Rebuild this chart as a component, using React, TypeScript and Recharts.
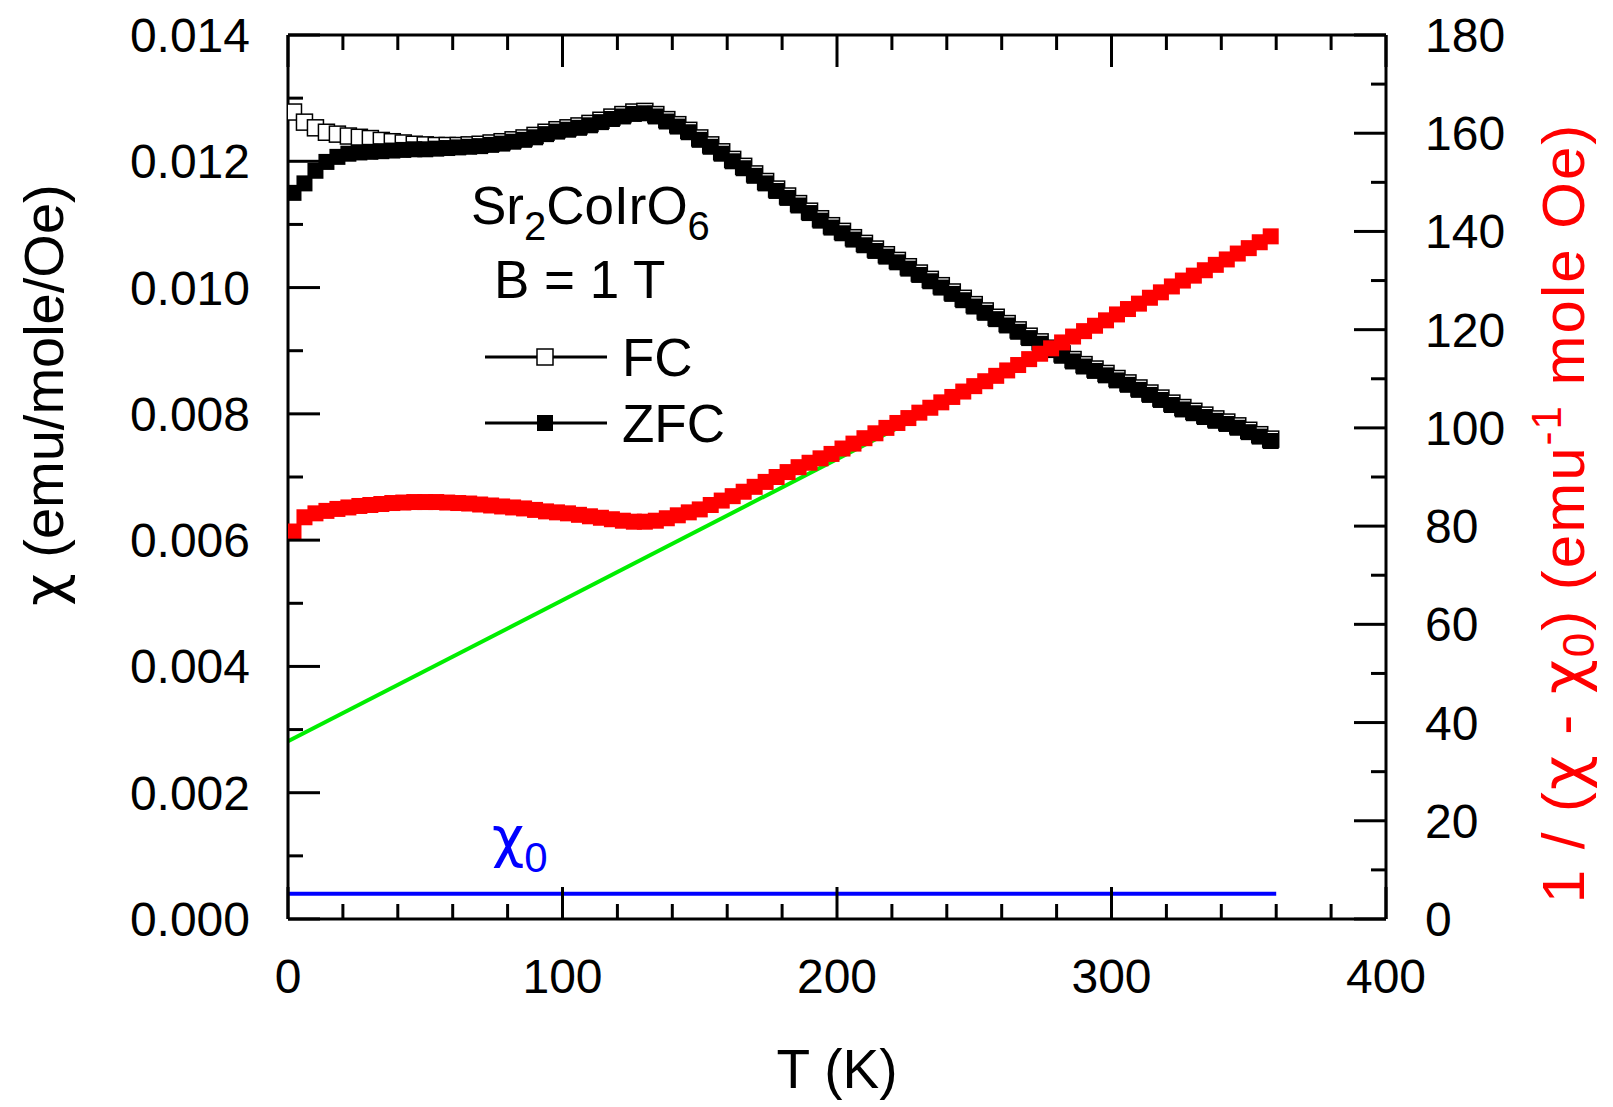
import React from 'react';
import { ComposedChart, Line, XAxis, YAxis, Customized } from 'recharts';

const FONT = '"Liberation Sans", Arial, Helvetica, sans-serif';
const GREEK = '"DejaVu Sans", "Liberation Sans", sans-serif';

// temperature grid (K)
const TEMPS = [
  2, 6, 10, 14, 18, 22, 26, 30, 34, 38,
  42, 46, 50, 54, 58, 62, 66, 70, 74, 78,
  82, 86, 90, 94, 98, 102, 106, 110, 114, 118,
  122, 126, 130, 134, 138, 142, 146, 150, 154, 158,
  162, 166, 170, 174, 178, 182, 186, 190, 194, 198,
  202, 206, 210, 214, 218, 222, 226, 230, 234, 238,
  242, 246, 250, 254, 258, 262, 266, 270, 274, 278,
  282, 286, 290, 294, 298, 302, 306, 310, 314, 318,
  322, 326, 330, 334, 338, 342, 346, 350, 354, 358,
];

// chi, field cooled (emu/mole/Oe)
const FC_CHI = [
  0.01278, 0.01262, 0.01253, 0.01246, 0.01243, 0.0124, 0.01238, 0.01236, 0.01233, 0.01231,
  0.01229, 0.01227, 0.01226, 0.01225, 0.01225, 0.01225, 0.01226, 0.01227, 0.01229, 0.01231,
  0.01234, 0.01237, 0.01241, 0.01246, 0.0125, 0.01253, 0.01256, 0.0126, 0.01265, 0.0127,
  0.01274, 0.01278, 0.01279, 0.01274, 0.01266, 0.01258, 0.01249, 0.01237, 0.01226, 0.01215,
  0.01203, 0.01192, 0.0118, 0.01168, 0.01156, 0.01145, 0.01133, 0.01121, 0.01109, 0.01098,
  0.01089, 0.01079, 0.0107, 0.01061, 0.01052, 0.01043, 0.01033, 0.01023, 0.01013, 0.01003,
  0.00993, 0.00983, 0.00973, 0.00963, 0.00953, 0.00943, 0.00933, 0.00923, 0.00914, 0.00904,
  0.00895, 0.00886, 0.00878, 0.00871, 0.00864, 0.00856, 0.00849, 0.00841, 0.00833, 0.00825,
  0.00817, 0.0081, 0.00804, 0.00798, 0.00792, 0.00787, 0.00781, 0.00774, 0.00767, 0.0076,
];

// chi, zero field cooled
const ZFC_CHI = [
  0.0115, 0.01165, 0.01185, 0.01199, 0.01207, 0.01212, 0.01214, 0.01215, 0.01216, 0.01217,
  0.01218, 0.01219, 0.01219, 0.0122, 0.01221, 0.01222, 0.01223, 0.01224, 0.01226, 0.01228,
  0.01231, 0.01234, 0.01238, 0.01243, 0.01247, 0.0125, 0.01253, 0.01257, 0.01262, 0.01267,
  0.01271, 0.01275, 0.01276, 0.01271, 0.01263, 0.01255, 0.01246, 0.01234, 0.01223, 0.01212,
  0.012, 0.01189, 0.01177, 0.01165, 0.01153, 0.01142, 0.0113, 0.01118, 0.01106, 0.01095,
  0.01086, 0.01076, 0.01067, 0.01058, 0.01049, 0.0104, 0.0103, 0.0102, 0.0101, 0.01,
  0.0099, 0.0098, 0.0097, 0.0096, 0.0095, 0.0094, 0.0093, 0.0092, 0.00911, 0.00901,
  0.00892, 0.00883, 0.00875, 0.00868, 0.00861, 0.00853, 0.00846, 0.00838, 0.0083, 0.00822,
  0.00814, 0.00807, 0.00801, 0.00795, 0.00789, 0.00784, 0.00778, 0.00771, 0.00764, 0.00757,
];

// 1 / (chi - chi0), right axis
const INV_CHI = [
  78.9, 81.8, 82.6, 83.1, 83.5, 83.8, 84.1, 84.3, 84.5, 84.7,
  84.8, 84.9, 84.9, 84.9, 84.8, 84.7, 84.6, 84.4, 84.2, 84.0,
  83.8, 83.6, 83.3, 83.0, 82.8, 82.6, 82.3, 82.0, 81.7, 81.4,
  81.1, 80.9, 80.9, 81.1, 81.6, 82.2, 82.8, 83.4, 84.3, 85.2,
  86.1, 87.0, 88.0, 89.0, 90.0, 91.0, 92.0, 92.9, 93.8, 94.7,
  95.8, 96.8, 97.9, 98.9, 100.0, 101.0, 102.0, 103.1, 104.1, 105.2,
  106.3, 107.4, 108.5, 109.5, 110.6, 111.7, 112.8, 114.0, 115.1, 116.2,
  117.4, 118.6, 119.7, 120.8, 121.9, 123.1, 124.2, 125.3, 126.5, 127.6,
  128.8, 130.0, 131.0, 132.1, 133.2, 134.3, 135.5, 136.6, 137.8, 139.0,
];

// Curie-Weiss fit and chi0 level
const FIT_TEMPS = [0, 360];
const FIT_INV = [36.2, 139.6];
const CHI0 = [0.0004, 0.0004];

const X_TICKS = [0, 20, 40, 60, 80, 100, 120, 140, 160, 180, 200, 220, 240, 260, 280, 300, 320, 340, 360, 380, 400];
const X_LABELED = [0, 100, 200, 300, 400];
const L_TICKS = [
  0, 0.001, 0.002, 0.003, 0.004, 0.005, 0.006, 0.007,
  0.008, 0.009, 0.01, 0.011, 0.012, 0.013, 0.014,
];
const L_LABELED = [0, 0.002, 0.004, 0.006, 0.008, 0.01, 0.012, 0.014];
const R_TICKS = [0, 10, 20, 30, 40, 50, 60, 70, 80, 90, 100, 110, 120, 130, 140, 150, 160, 170, 180];
const R_LABELED = [0, 20, 40, 60, 80, 100, 120, 140, 160, 180];

type Row = { T: number; fc?: number; zfc?: number; inv?: number; fit?: number; chi0?: number };

const rows: Row[] = [
  ...FIT_TEMPS.map((T, i) => ({ T, fit: FIT_INV[i], chi0: CHI0[i] })),
  ...TEMPS.map((T, i) => ({ T, fc: FC_CHI[i], zfc: ZFC_CHI[i], inv: INV_CHI[i] })),
].sort((a, b) => a.T - b.T);

const SQ = 16;
const MAJOR = 32;
const MINOR = 15;
const TICK_FS = 48;

const square = (fill: string, stroke: string, sw: number) => (p: any) => {
  if (p.cy == null || p.value == null || Number.isNaN(p.cy)) return <g key={`e${p.index}`} />;
  return (
    <rect
      key={`s${p.index}`}
      x={p.cx - SQ / 2}
      y={p.cy - SQ / 2}
      width={SQ}
      height={SQ}
      fill={fill}
      stroke={stroke}
      strokeWidth={sw}
    />
  );
};

const has = (list: number[], v: number) => list.some((t) => Math.abs(t - v) < 1e-9);

// inward tick marks, label only on the major ones
const bottomTick = (p: any) => {
  const v = p.payload.value;
  const major = has(X_LABELED, v);
  return (
    <g>
      <line x1={p.x} x2={p.x} y1={p.y} y2={p.y - (major ? MAJOR : MINOR)} stroke="#000" strokeWidth={3} />
      {major && (
        <text x={p.x} y={p.y + 74} textAnchor="middle" fontSize={TICK_FS} fontFamily={FONT} fill="#000">{v}</text>
      )}
    </g>
  );
};

const topTick = (p: any) => {
  const major = has(X_LABELED, p.payload.value);
  return <line x1={p.x} x2={p.x} y1={p.y} y2={p.y + (major ? MAJOR : MINOR)} stroke="#000" strokeWidth={3} />;
};

const leftTick = (p: any) => {
  const v = p.payload.value;
  const major = has(L_LABELED, v);
  return (
    <g>
      <line x1={p.x} x2={p.x + (major ? MAJOR : MINOR)} y1={p.y} y2={p.y} stroke="#000" strokeWidth={3} />
      {major && (
        <text x={p.x - 38} y={p.y + 17} textAnchor="end" fontSize={TICK_FS} fontFamily={FONT} fill="#000">
          {v.toFixed(3)}
        </text>
      )}
    </g>
  );
};

const rightTick = (p: any) => {
  const v = p.payload.value;
  const major = has(R_LABELED, v);
  return (
    <g>
      <line x1={p.x} x2={p.x - (major ? MAJOR : MINOR)} y1={p.y} y2={p.y} stroke="#000" strokeWidth={3} />
      {major && (
        <text x={p.x + 39} y={p.y + 17} textAnchor="start" fontSize={TICK_FS} fontFamily={FONT} fill="#000">{v}</text>
      )}
    </g>
  );
};

const AXIS = { stroke: '#000', strokeWidth: 3 };

const Annotations = () => (
  <g fontFamily={FONT} fill="#000">
    <text x={471} y={224} fontSize={53}>
      Sr<tspan dy={16} fontSize={40}>2</tspan>
      <tspan dy={-16}>CoIrO</tspan>
      <tspan dy={16} fontSize={40}>6</tspan>
    </text>
    <text x={494} y={298} fontSize={53}>B = 1 T</text>

    <line x1={485} y1={357} x2={607} y2={357} stroke="#000" strokeWidth={3} />
    <rect x={537} y={349} width={16} height={16} fill="#fff" stroke="#000" strokeWidth={1.5} />
    <text x={622} y={376} fontSize={53}>FC</text>
    <line x1={485} y1={423} x2={607} y2={423} stroke="#000" strokeWidth={3} />
    <rect x={537} y={415} width={16} height={16} fill="#000" />
    <text x={622} y={442} fontSize={53}>ZFC</text>

    <text x={492} y={856} fontSize={56} fill="#0000ff">
      <tspan fontFamily={GREEK}>χ</tspan>
      <tspan dy={16} fontSize={42}>0</tspan>
    </text>

    <text x={837} y={1088} fontSize={55} textAnchor="middle">T (K)</text>
    <text x={63} y={395} fontSize={56} textAnchor="middle" transform="rotate(-90 63 395)">
      <tspan fontFamily={GREEK}>χ</tspan> (emu/mole/Oe)
    </text>
    <text
      x={1584} y={513} fontSize={60} letterSpacing={2} textAnchor="middle" fill="#ff0000"
      transform="rotate(-90 1584 513)"
    >
      1 / (<tspan fontFamily={GREEK}>χ</tspan> - <tspan fontFamily={GREEK}>χ</tspan>
      <tspan dy={10} fontSize={44}>0</tspan>
      <tspan dy={-10}>) (emu</tspan>
      <tspan dy={-23} fontSize={42}>-1</tspan>
      <tspan dy={23}> mole Oe)</tspan>
    </text>
  </g>
);

export default function App() {
  return (
    <div style={{ position: 'absolute', left: 0, top: 0, width: 1613, height: 1107, background: '#fff', fontFamily: FONT }}>
      <ComposedChart width={1613} height={1107} data={rows} margin={{ top: 34, right: 226, bottom: 187, left: 287 }}>
        <XAxis
          xAxisId="b" dataKey="T" type="number" domain={[0, 400]} ticks={X_TICKS} interval={0} height={1}
          tickSize={0} tickMargin={0} axisLine={AXIS} tickLine={false} tick={bottomTick} allowDataOverflow
        />
        <XAxis
          xAxisId="t" orientation="top" dataKey="T" type="number" domain={[0, 400]} ticks={X_TICKS} interval={0}
          height={1} tickSize={0} tickMargin={0} axisLine={AXIS} tickLine={false} tick={topTick} allowDataOverflow
        />
        <YAxis
          yAxisId="l" type="number" domain={[0, 0.014]} ticks={L_TICKS} interval={0} width={1}
          tickSize={0} tickMargin={0} axisLine={AXIS} tickLine={false} tick={leftTick} allowDataOverflow
        />
        <YAxis
          yAxisId="r" orientation="right" type="number" domain={[0, 180]} ticks={R_TICKS} interval={0} width={1}
          tickSize={0} tickMargin={0} axisLine={AXIS} tickLine={false} tick={rightTick} allowDataOverflow
        />

        <Line xAxisId="b" yAxisId="l" dataKey="chi0" stroke="#0000ff" strokeWidth={4} dot={false}
          activeDot={false} connectNulls isAnimationActive={false} />
        <Line xAxisId="b" yAxisId="l" dataKey="fc" stroke="none" dot={square('#fff', '#000', 1.5)}
          activeDot={false} isAnimationActive={false} />
        <Line xAxisId="b" yAxisId="l" dataKey="zfc" stroke="none" dot={square('#000', '#000', 0)}
          activeDot={false} isAnimationActive={false} />
        <Line xAxisId="b" yAxisId="r" dataKey="inv" stroke="none" dot={square('#ff0000', '#ff0000', 0)}
          activeDot={false} isAnimationActive={false} />
        <Line xAxisId="b" yAxisId="r" dataKey="fit" stroke="#00ee00" strokeWidth={4} dot={false}
          activeDot={false} connectNulls isAnimationActive={false} />

        <Customized component={Annotations} />
      </ComposedChart>
    </div>
  );
}
